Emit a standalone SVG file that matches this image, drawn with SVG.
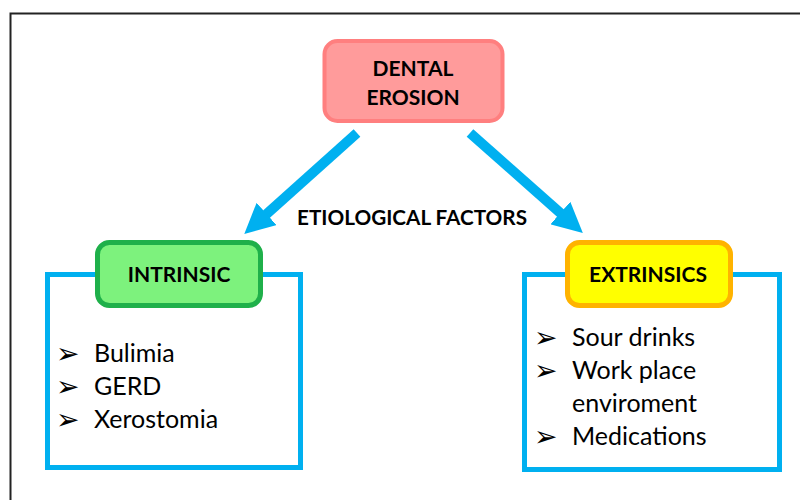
<svg xmlns="http://www.w3.org/2000/svg" width="800" height="500" viewBox="0 0 800 500">
<style>
.lbl{font-family:Lato,"Open Sans","Liberation Sans",sans-serif;font-weight:bold;fill:#000;text-anchor:middle}
.item{font-family:Lato,"Open Sans","Liberation Sans",sans-serif;font-size:25px;fill:#000}
.bul{font-family:"DejaVu Sans",sans-serif;font-size:28px;fill:#000}
.frame{fill:none;stroke:#00b0f0;stroke-width:5}
.conn{stroke:#00b0f0;stroke-width:10;fill:none;marker-end:url(#ah)}
</style>
<defs>
<marker id="ah" viewBox="0 0 10 10" markerWidth="3" markerHeight="3" refX="0.5" refY="5" orient="auto" markerUnits="strokeWidth">
<path d="M0,0 L10,5 L0,10 z" fill="#00b0f0"/>
</marker>
</defs>
<rect width="800" height="500" fill="#fff"/>
<path d="M10.5,500 V13.5 H800" fill="none" stroke="#222" stroke-width="2"/>
<g id="connectors">
<line class="conn" x1="357" y1="133" x2="265.5" y2="215"/>
<line class="conn" x1="470" y1="133" x2="561.5" y2="214"/>
</g>
<text class="lbl" x="412" y="225" font-size="20" textLength="230" lengthAdjust="spacingAndGlyphs">ETIOLOGICAL FACTORS</text>
<g id="dental-erosion">
<rect x="324.5" y="41" width="178" height="80" rx="13" fill="#ff9b9b" stroke="#ff7f7f" stroke-width="4"/>
<text class="lbl" x="413" y="76" font-size="21">DENTAL</text>
<text class="lbl" x="413" y="105" font-size="21">EROSION</text>
</g>
<g id="intrinsic-list">
<rect class="frame" x="47.5" y="274.5" width="253" height="193"/>
<text class="bul" x="56" y="363">➢</text>
<text class="item" x="94" y="362">Bulimia</text>
<text class="bul" x="56" y="396">➢</text>
<text class="item" x="94" y="395">GERD</text>
<text class="bul" x="56" y="429">➢</text>
<text class="item" x="94" y="428">Xerostomia</text>
</g>
<g id="intrinsic">
<rect x="97.5" y="242.5" width="163" height="63" rx="12" fill="#7df27d" stroke="#1fb04a" stroke-width="5"/>
<text class="lbl" x="179" y="282" font-size="21">INTRINSIC</text>
</g>
<g id="extrinsic-list">
<rect class="frame" x="524.5" y="274.5" width="255" height="195"/>
<text class="bul" x="534" y="347">➢</text>
<text class="item" x="572" y="346">Sour drinks</text>
<text class="bul" x="534" y="380">➢</text>
<text class="item" x="572" y="379">Work place</text>
<text class="item" x="572" y="412">enviroment</text>
<text class="bul" x="534" y="446">➢</text>
<text class="item" x="572" y="445">Medications</text>
</g>
<g id="extrinsics">
<rect x="567.5" y="242.5" width="163" height="63" rx="12" fill="#ffff00" stroke="#ffb300" stroke-width="5"/>
<text class="lbl" x="648" y="282" font-size="21">EXTRINSICS</text>
</g>
</svg>
